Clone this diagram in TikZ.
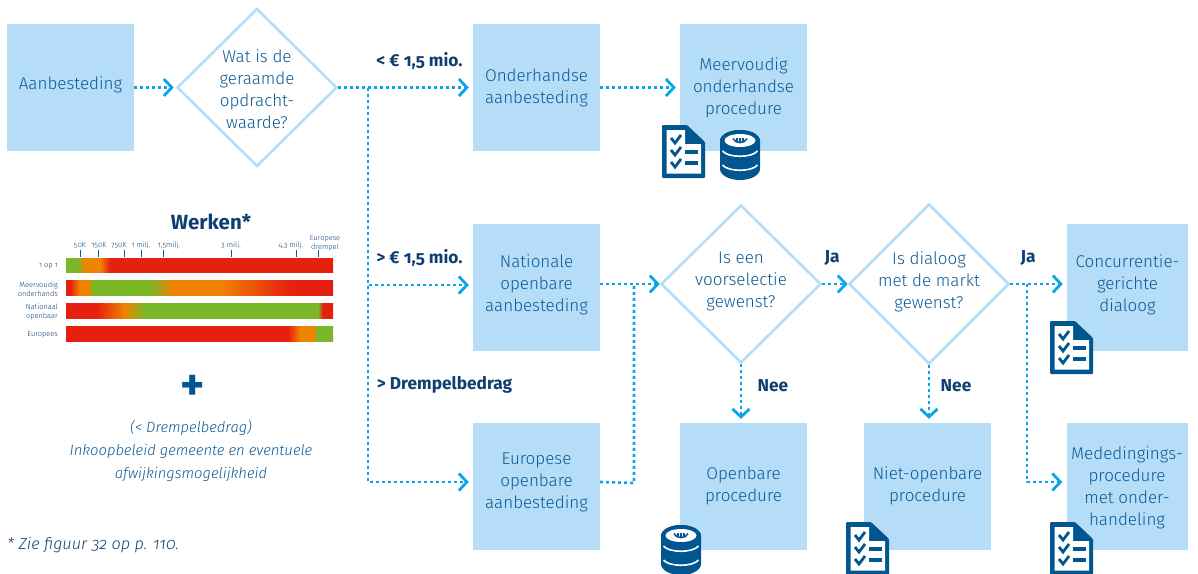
\documentclass[tikz,border=0pt]{standalone}
\usepackage{fontspec}
\usepackage{xcolor}
\setmainfont{Fira Sans}[UprightFont=* Light,ItalicFont=* Light Italic,BoldFont=* Bold,Numbers=OldStyle]
\usetikzlibrary{arrows.meta,shapes.geometric}
\definecolor{vlak}{HTML}{B6DDF7}
\definecolor{tekst}{HTML}{0B5A94}
\definecolor{donker}{HTML}{0F3F70}
\definecolor{stip}{HTML}{0AA5E8}
\definecolor{icoon}{HTML}{01568F}
\definecolor{rood}{HTML}{E6200F}
\definecolor{oranje}{HTML}{F08400}
\definecolor{groen}{HTML}{7AB828}
\tikzset{
  stapbox/.style={fill=vlak, text=tekst, minimum width=127pt, minimum height=127pt, inner sep=0pt, align=center, font=\fontsize{17}{22}\selectfont},
  keuze/.style={draw=vlak, fill=white, line width=2.6pt, shape=diamond, text=tekst, minimum width=160pt, minimum height=158pt, inner sep=0pt, align=center, font=\fontsize{17}{22}\selectfont},
  stippel/.style={draw=stip, line width=2.6pt, dash pattern=on 3pt off 3pt},
  pijl/.style={stippel, -{Straight Barb[length=8pt,width=17pt,line width=2.8pt]}, shorten >=4pt},
  bedrag/.style={text=donker, font=\fontsize{17.3}{20}\selectfont\bfseries},
  klein/.style={text=donker, font=\fontsize{7.4}{8.6}\selectfont, align=right, inner sep=0pt},
  schaal/.style={text=donker, font=\fontsize{7.4}{8.6}\selectfont, align=center, inner sep=0pt},
  pics/klembord/.style={code={
    \fill[icoon, rounded corners=1pt] (0,0) -- (25,0) -- (43,17) -- (43,53) -- (0,53) -- cycle;
    \fill[white] (4.5,5) -- (23,5) -- (23,19) -- (39,19) -- (39,48.5) -- (4.5,48.5) -- cycle;
    \foreach \y in {16,28,40}
      \draw[icoon, line width=2.8pt] (9,\y-3) -- (13,\y+2) -- (19,\y-6);
    \foreach \y in {27,38}
      \draw[icoon, line width=3.6pt] (23,\y) -- (36,\y);
  }},
  pics/munten/.style={code={
    \fill[icoon] (0,11) -- (0,39) arc[start angle=180, end angle=360, x radius=20, y radius=-11] -- (40,11) arc[start angle=0, end angle=180, x radius=20, y radius=-11] -- cycle;
    \fill[icoon] (20,11) ellipse[x radius=20, y radius=11];
    \fill[white] (20,10.5) ellipse[x radius=15.5, y radius=6.5];
    \draw[white, line width=1.6pt] (2.5,21) .. controls (8,28) and (32,28) .. (37.5,21);
    \draw[white, line width=1.6pt] (2.5,35) .. controls (8,42) and (32,42) .. (37.5,35);
    \draw[icoon, line width=1.5pt] (13,8.5) .. controls (15,14) and (25,14) .. (27,8.5);
    \draw[icoon, line width=1.1pt] (17,8) -- (17,12) (20,8) -- (20,12) (23,8) -- (23,12);
  }}
}
\begin{document}
\begin{tikzpicture}[x=1pt, y=-1pt, node distance=200pt]
    \useasboundingbox (0,0) rectangle (1198,573);

    % stappen bovenaan
    \node (aanbesteding) [stapbox, text depth=9.5pt] at (70.5,87.5) {Aanbesteding};
    \node (waarde) [keuze, right of=aanbesteding, xshift=-13.5pt] {\rule{0pt}{16pt}Wat is de\\geraamde\\opdracht-\\waarde?};
    \node (onderhands) [stapbox, right of=waarde, xshift=79.5pt] {Onderhandse\\aanbesteding};
    \node (meervoudig) [stapbox, right of=onderhands, xshift=7pt] {Meervoudig\\onderhandse\\procedure};

    % middelste en onderste rij
    \node (nationaal) [stapbox, text depth=9.5pt, below of=onderhands] {Nationale\\openbare\\aanbesteding};
    \node (europees) [stapbox, text depth=11.5pt, below of=nationaal, yshift=1pt] {Europese\\openbare\\aanbesteding};
    \node (voorselectie) [keuze, text depth=8pt, right of=nationaal, xshift=4.5pt, yshift=3.5pt] {Is een\\voorselectie\\gewenst?};
    \node (dialoog) [keuze, text height=53pt, text depth=5pt, right of=voorselectie, xshift=-12pt] {Is dialoog\\met de markt\\gewenst?};
    \node (concurrentie) [stapbox, text depth=9.5pt, minimum width=121pt, right of=dialoog, xshift=-1.5pt, yshift=-3.5pt] {Concurrentie-\\gerichte\\dialoog};
    \node (openbaar) [stapbox, text depth=5.5pt, below of=europees, yshift=200pt, xshift=207pt] {Openbare\\procedure};
    \node (nietopenbaar) [stapbox, text depth=5.5pt, right of=openbaar, xshift=-16pt] {Niet-openbare\\procedure};
    \node (mededinging) [stapbox, minimum width=121pt, right of=nietopenbaar, xshift=-0.5pt] {\rule{0pt}{15pt}Mededingings-\\procedure\\met onder-\\handeling};

    % stippellijnen
    \coordinate (splitsing) at (368,87.5);
    \coordinate (terug) at (634,483);
    \coordinate (tak) at (1027,284);
    \draw[pijl, shorten >=2pt] (aanbesteding) -- (waarde);
    \draw[pijl] (waarde) -- (onderhands);
    \draw[pijl] (onderhands) -- (meervoudig);
    \draw[pijl] (splitsing) |- ([yshift=2.5pt]nationaal.west);
    \draw[pijl] (splitsing) |- ([yshift=4.5pt]europees.west);
    \draw[pijl, shorten >=0pt] (nationaal.east |- voorselectie) -- (voorselectie.west);
    \draw[stippel] ([yshift=4.5pt]europees.east) -- (terug) -- (terug |- voorselectie);
    \draw[pijl, shorten >=0pt] (voorselectie.east) -- (dialoog.west);
    \draw[pijl] (dialoog.east) -- (dialoog.east -| concurrentie.west);
    \draw[pijl] (tak) |- ([yshift=4.5pt]mededinging.west);
    \draw[pijl] (voorselectie.south) -- (voorselectie.south |- openbaar.north);
    \draw[pijl] (dialoog.south) -- (dialoog.south |- nietopenbaar.north);

    % bedragen en ja/nee
    \node (mio1) [bedrag] at (419.5,61) {< € 1,5 mio.};
    \node (mio2) [bedrag] at (419.5,258) {> € 1,5 mio.};
    \node (drempel) [bedrag] at (444.5,385) {> Drempelbedrag};
    \node (ja1) [bedrag] at (832,257.5) {Ja};
    \node (ja2) [bedrag] at (1028,257.5) {Ja};
    \node (nee1) [bedrag] at (773,386) {Nee};
    \node (nee2) [bedrag] at (956,386) {Nee};

    % iconen
    \pic at (662,125) {klembord};
    \pic at (720,130) {munten};
    \pic at (1050,321) {klembord};
    \pic at (846,522) {klembord};
    \pic at (1050,522) {klembord};
    \pic at (661,525) {munten};

    % balken
    \foreach \xa/\xb/\ca/\cb in {66/77/groen/groen, 77/85/groen/oranje, 85/100/oranje/oranje, 100/110/oranje/rood, 110/333/rood/rood}
      \fill[left color=\ca, right color=\cb] (\xa,258) rectangle (\xb,272);
    \foreach \xa/\xb/\ca/\cb in {66/70/rood/rood, 70/80/rood/oranje, 80/91/oranje/oranje, 91/150/groen/groen, 150/173/groen/oranje, 173/220/oranje/oranje, 220/290/oranje/rood, 290/333/rood/rood}
      \fill[left color=\ca, right color=\cb] (\xa,280) rectangle (\xb,295);
    \foreach \xa/\xb/\ca/\cb in {66/97/rood/rood, 97/125/rood/oranje, 125/145/oranje/groen, 145/318/groen/groen, 318/323/groen/rood, 323/333/rood/rood}
      \fill[left color=\ca, right color=\cb] (\xa,303) rectangle (\xb,318);
    \foreach \xa/\xb/\ca/\cb in {66/288/rood/rood, 288/300/rood/oranje, 300/316/oranje/oranje, 316/333/groen/groen}
      \fill[left color=\ca, right color=\cb] (\xa,326) rectangle (\xb,341);
    \foreach \x in {80,98,124,141,163,231,296,318}
      \draw[tekst, line width=0.8pt] (\x,250) -- (\x,257);

    \node (werken) [text=donker, font=\fontsize{20.5}{24}\selectfont\bfseries] at (211,222) {Werken*};
    \node (s50) [schaal] at (80,245) {50K};
    \node (s150) [schaal] at (99,245) {150K};
    \node (s750) [schaal] at (119,245) {750K};
    \node (s1) [schaal] at (141,245) {1 milj.};
    \node (s15) [schaal] at (169,245) {1,5milj.};
    \node (s3) [schaal] at (231,245) {3 milj.};
    \node (s43) [schaal] at (291,245) {4,3 milj.};
    \node (sdrempel) [schaal] at (325,243) {Europese\\drempel};
    \node (r1) [klein, anchor=east] at (58,266) {1 op 1};
    \node (r2) [klein, anchor=east] at (58,289) {Meervoudig\\onderhands};
    \node (r3) [klein, anchor=east] at (58,312) {Nationaal\\openbaar};
    \node (r4) [klein, anchor=east] at (58,334.5) {Europees};

    \node (plus) [text=icoon, font=\fontsize{46}{46}\selectfont\bfseries] at (193,388) {+};
    \node (beleid) [text=tekst, align=center, font=\fontsize{14.8}{23}\selectfont\itshape] at (191,451) {(< Drempelbedrag)\\Inkoopbeleid gemeente en eventuele\\afwijkingsmogelijkheid};
    \node (noot) [text=donker, anchor=west, inner sep=0pt, font=\fontsize{16.2}{18}\selectfont\itshape] at (7,545.5) {* Zie figuur 32 op p. 110.};
\end{tikzpicture}
\end{document}
